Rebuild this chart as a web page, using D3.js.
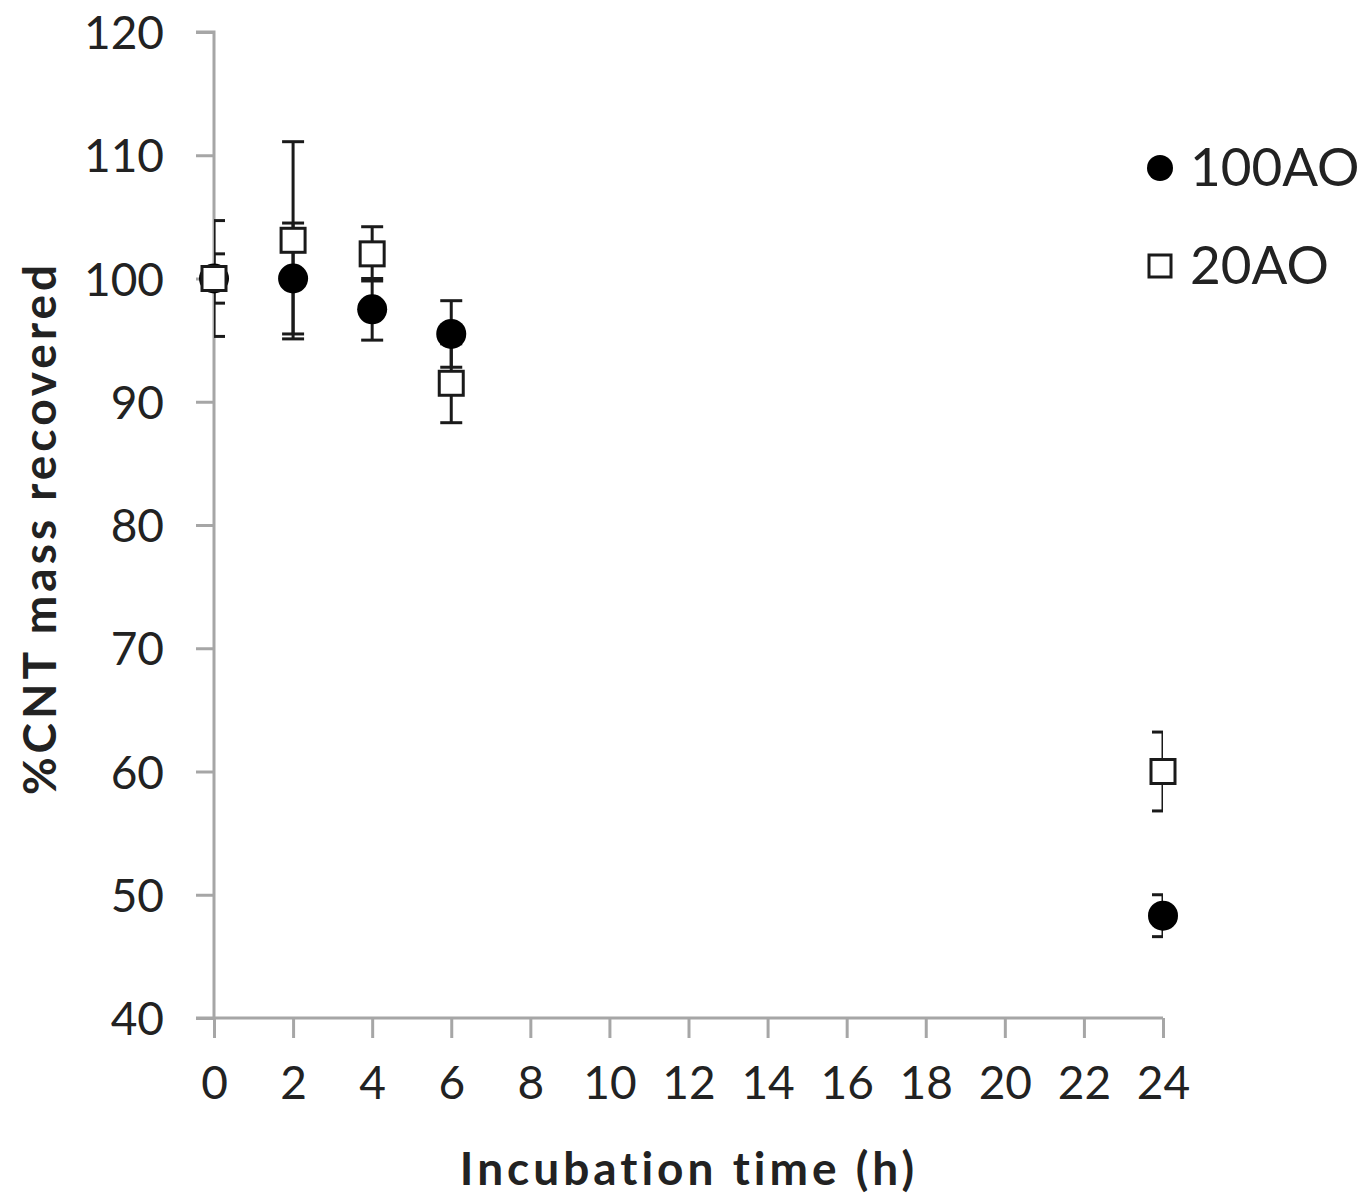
<!DOCTYPE html>
<html>
<head>
<meta charset="utf-8">
<script src="https://cdn.jsdelivr.net/npm/d3@7"></script>
<style>
  body { margin: 0; background: #fff; }
  svg text { font-family: Lato, "Open Sans", sans-serif; fill: #222; }
</style>
</head>
<body>
<div id="chart"></div>
<script>
// data
const times = [0, 2, 4, 6, 24];
const ao100 = [100, 100, 97.5, 95.5, 48.3];
const ao100Err = [2, 4.5, 2.5, 2.7, 1.7];
const ao20 = [100, 103.1, 102, 91.5, 60];
const ao20Err = [4.7, 8, 2.2, 3.2, 3.2];
const xTicks = d3.range(0, 25, 2);
const yTicks = d3.range(40, 121, 10);

const W = 1369, H = 1199;
const margin = { top: 32, right: 206, bottom: 181, left: 214 };
const width = W - margin.left - margin.right;
const height = H - margin.top - margin.bottom;

const svg = d3.select("#chart").append("svg")
    .attr("width", W)
    .attr("height", H);

const g = svg.append("g")
    .attr("transform", `translate(${margin.left},${margin.top})`);

const x = d3.scaleLinear().domain([0, 24]).range([0, width]);
const y = d3.scaleLinear().domain([40, 120]).range([height, 0]);

// clip for error bars (Excel clips them to the plot area)
svg.append("defs").append("clipPath").attr("id", "plot")
    .append("rect").attr("x", 0).attr("y", -5).attr("width", width).attr("height", height + 10);

// axes
const axisColor = "#a6a6a6";
const yAxis = g.append("g")
    .call(d3.axisLeft(y).tickValues(yTicks).tickSize(18).tickPadding(32));
const xAxis = g.append("g")
    .attr("transform", `translate(0,${height})`)
    .call(d3.axisBottom(x).tickValues(xTicks).tickSize(20).tickPadding(28));
[xAxis, yAxis].forEach(a => {
    a.select(".domain").attr("stroke", axisColor).attr("stroke-width", 3);
    a.selectAll(".tick line").attr("stroke", axisColor).attr("stroke-width", 3);
    a.selectAll(".tick text").style("font-size", "46px").attr("fill", "#222");
});
yAxis.select(".domain").attr("d", `M-18,0H0V${height}`);
xAxis.select(".domain").attr("d", `M-18,0H${width}`);
yAxis.selectAll(".tick text").attr("dy", "0.36em");

// error bars
function errorBars(vals, errs) {
    const eg = g.append("g").attr("clip-path", "url(#plot)")
        .attr("stroke", "#1a1a1a").attr("stroke-width", 3).attr("fill", "none");
    times.forEach((t, i) => {
        const cx = x(t), hi = y(vals[i] + errs[i]), lo = y(vals[i] - errs[i]);
        eg.append("line").attr("x1", cx).attr("x2", cx).attr("y1", hi).attr("y2", lo);
        [hi, lo].forEach(yy => eg.append("line")
            .attr("x1", cx - 11).attr("x2", cx + 11).attr("y1", yy).attr("y2", yy));
    });
}
errorBars(ao100, ao100Err);
errorBars(ao20, ao20Err);

// markers
g.selectAll(".dot100").data(times).enter().append("circle")
    .attr("cx", d => x(d))
    .attr("cy", (d, i) => y(ao100[i]))
    .attr("r", 15)
    .attr("fill", "#000");

g.selectAll(".sq20").data(times).enter().append("rect")
    .attr("x", d => x(d) - 12)
    .attr("y", (d, i) => y(ao20[i]) - 12)
    .attr("width", 24).attr("height", 24)
    .attr("fill", "#fff")
    .attr("stroke", "#1a1a1a")
    .attr("stroke-width", 3);

// legend
const leg = svg.append("g").attr("transform", "translate(1160,0)");
leg.append("circle").attr("cx", 0).attr("cy", 168).attr("r", 13).attr("fill", "#000");
leg.append("text").attr("x", 30).attr("y", 186).style("font-size", "53px").text("100AO");
leg.append("rect").attr("x", -11).attr("y", 255).attr("width", 22).attr("height", 22)
    .attr("fill", "#fff").attr("stroke", "#1a1a1a").attr("stroke-width", 3);
leg.append("text").attr("x", 30).attr("y", 284).style("font-size", "53px").text("20AO");

// axis titles
svg.append("text")
    .attr("x", 689)
    .attr("y", 1185)
    .attr("text-anchor", "middle")
    .style("font-size", "46px").style("font-weight", "bold")
    .style("letter-spacing", "4px")
    .text("Incubation time (h)");

svg.append("text")
    .attr("transform", `translate(56,528) rotate(-90)`)
    .attr("text-anchor", "middle")
    .style("font-size", "46px").style("font-weight", "bold")
    .style("letter-spacing", "4px")
    .text("%CNT mass recovered");
</script>
</body>
</html>
